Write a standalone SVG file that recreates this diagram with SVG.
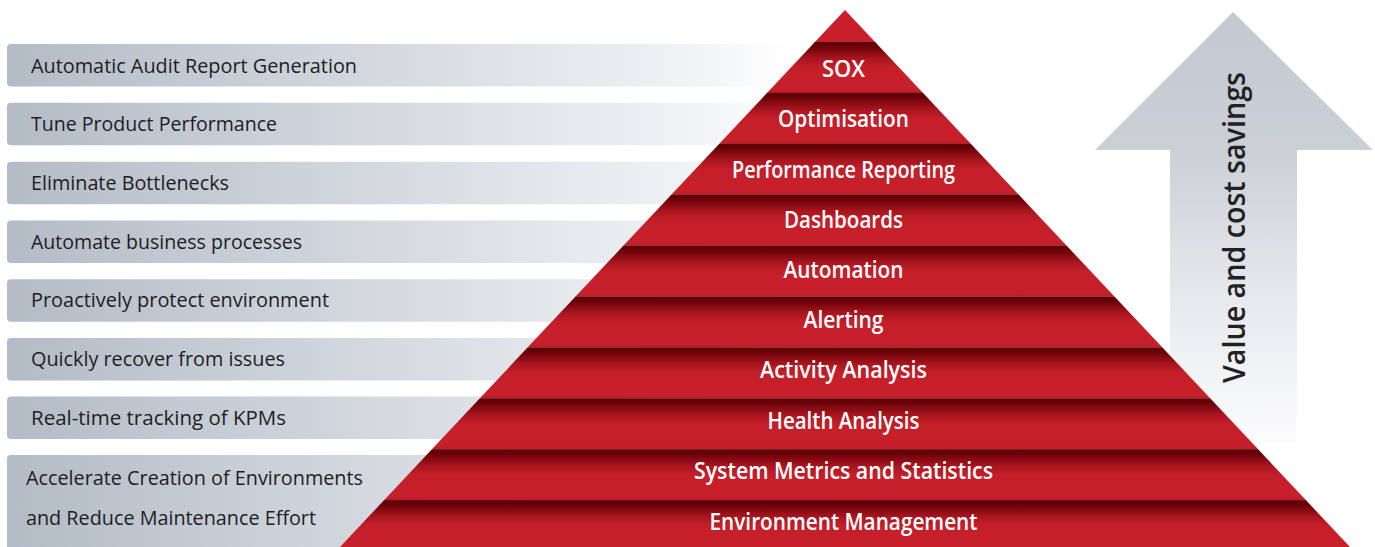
<svg xmlns="http://www.w3.org/2000/svg" width="1375" height="547" viewBox="0 0 1375 547">
<defs>
<linearGradient id="barGrad" gradientUnits="userSpaceOnUse" x1="7" y1="0" x2="790" y2="0">
<stop offset="0" stop-color="#b3bbc6"/>
<stop offset="0.5" stop-color="#d6dbe1"/>
<stop offset="0.88" stop-color="#f1f3f5"/>
<stop offset="1" stop-color="#ffffff"/>
</linearGradient>
<linearGradient id="bandGrad" x1="0" y1="0" x2="0" y2="1">
<stop offset="0" stop-color="#5a0004"/>
<stop offset="0.1" stop-color="#6c0309"/>
<stop offset="0.32" stop-color="#a8151e"/>
<stop offset="0.5" stop-color="#c41f29"/>
<stop offset="0.94" stop-color="#c8202a"/>
<stop offset="1" stop-color="#b41b24"/>
</linearGradient>
<linearGradient id="arrowGrad" gradientUnits="userSpaceOnUse" x1="0" y1="12" x2="0" y2="443">
<stop offset="0" stop-color="#c3c9d1"/>
<stop offset="0.32" stop-color="#cbd0d7"/>
<stop offset="0.67" stop-color="#e7e9ed"/>
<stop offset="1" stop-color="#fcfcfd"/>
</linearGradient>
<clipPath id="pyrClip">
<polygon points="845,10 1350,547 340,547"/>
</clipPath>
</defs>
<style>
.bar{fill:url(#barGrad);}
.bt{font-family:"Open Sans","Noto Sans","Liberation Sans",sans-serif;font-size:20px;fill:#1e1e1e;}
.band{fill:url(#bandGrad);}
.pt{font-family:"Open Sans","Noto Sans","Liberation Sans",sans-serif;font-size:23px;font-weight:600;fill:#ffffff;text-anchor:middle;}
.at{font-family:"Open Sans","Noto Sans","Liberation Sans",sans-serif;font-size:30px;font-weight:600;fill:#222222;text-anchor:middle;}
</style>

<g id="benefits">
<g id="b1"><rect class="bar" x="7" y="44" width="800" height="42.5" rx="4"/><text class="bt" x="31" y="72.5" textLength="326" lengthAdjust="spacingAndGlyphs">Automatic Audit Report Generation</text></g>
<g id="b2"><rect class="bar" x="7" y="102.7" width="800" height="42.5" rx="4"/><text class="bt" x="31" y="131.2" textLength="246" lengthAdjust="spacingAndGlyphs">Tune Product Performance</text></g>
<g id="b3"><rect class="bar" x="7" y="161.7" width="800" height="42.5" rx="4"/><text class="bt" x="31" y="190" textLength="198" lengthAdjust="spacingAndGlyphs">Eliminate Bottlenecks</text></g>
<g id="b4"><rect class="bar" x="7" y="220.5" width="800" height="42.5" rx="4"/><text class="bt" x="31" y="248.7" textLength="271" lengthAdjust="spacingAndGlyphs">Automate business processes</text></g>
<g id="b5"><rect class="bar" x="7" y="279.2" width="800" height="42.5" rx="4"/><text class="bt" x="31" y="307.4" textLength="298" lengthAdjust="spacingAndGlyphs">Proactively protect environment</text></g>
<g id="b6"><rect class="bar" x="7" y="338" width="800" height="42.5" rx="4"/><text class="bt" x="31" y="366" textLength="254" lengthAdjust="spacingAndGlyphs">Quickly recover from issues</text></g>
<g id="b7"><rect class="bar" x="7" y="396.6" width="800" height="42.5" rx="4"/><text class="bt" x="31" y="424.8" textLength="255" lengthAdjust="spacingAndGlyphs">Real-time tracking of KPMs</text></g>
<g id="b8"><rect class="bar" x="7" y="455" width="800" height="100" rx="4"/><text class="bt" x="26" y="485" textLength="337" lengthAdjust="spacingAndGlyphs">Accelerate Creation of Environments</text><text class="bt" x="26" y="525" textLength="290" lengthAdjust="spacingAndGlyphs">and Reduce Maintenance Effort</text></g>
</g>

<g id="arrow">
<polygon points="1233,12 1373,150 1297,150 1297,443 1170,443 1170,150 1095,150" fill="url(#arrowGrad)"/>
<text class="at" transform="translate(1245,227.5) rotate(-90)" x="0" y="0" textLength="311" lengthAdjust="spacingAndGlyphs">Value and cost savings</text>
</g>

<g id="pyramid">
<g clip-path="url(#pyrClip)">
<rect id="tip" x="330" y="8" width="1030" height="35" fill="#c8202a"/>
<rect class="band" x="330" y="42" width="1030" height="51"/>
<rect class="band" x="330" y="92.9" width="1030" height="51"/>
<rect class="band" x="330" y="143.8" width="1030" height="51"/>
<rect class="band" x="330" y="194.7" width="1030" height="51"/>
<rect class="band" x="330" y="245.6" width="1030" height="51"/>
<rect class="band" x="330" y="296.5" width="1030" height="51"/>
<rect class="band" x="330" y="347.4" width="1030" height="51"/>
<rect class="band" x="330" y="398.3" width="1030" height="51"/>
<rect class="band" x="330" y="449.2" width="1030" height="51"/>
<rect class="band" x="330" y="500.1" width="1030" height="51"/>
</g>
<g id="l-sox"><text class="pt" x="843.5" y="77" textLength="43" lengthAdjust="spacingAndGlyphs">SOX</text></g>
<g id="l-opt"><text class="pt" x="843.5" y="127" textLength="131" lengthAdjust="spacingAndGlyphs">Optimisation</text></g>
<g id="l-perf"><text class="pt" x="843.5" y="178" textLength="223" lengthAdjust="spacingAndGlyphs">Performance Reporting</text></g>
<g id="l-dash"><text class="pt" x="843.5" y="228" textLength="119" lengthAdjust="spacingAndGlyphs">Dashboards</text></g>
<g id="l-auto"><text class="pt" x="843.5" y="277.5" textLength="120" lengthAdjust="spacingAndGlyphs">Automation</text></g>
<g id="l-alert"><text class="pt" x="843.5" y="327.5" textLength="80" lengthAdjust="spacingAndGlyphs">Alerting</text></g>
<g id="l-act"><text class="pt" x="843.5" y="378" textLength="167" lengthAdjust="spacingAndGlyphs">Activity Analysis</text></g>
<g id="l-health"><text class="pt" x="843.5" y="428.5" textLength="152" lengthAdjust="spacingAndGlyphs">Health Analysis</text></g>
<g id="l-sys"><text class="pt" x="843.5" y="479" textLength="299" lengthAdjust="spacingAndGlyphs">System Metrics and Statistics</text></g>
<g id="l-env"><text class="pt" x="843.5" y="529.5" textLength="268" lengthAdjust="spacingAndGlyphs">Environment Management</text></g>
</g>
</svg>
